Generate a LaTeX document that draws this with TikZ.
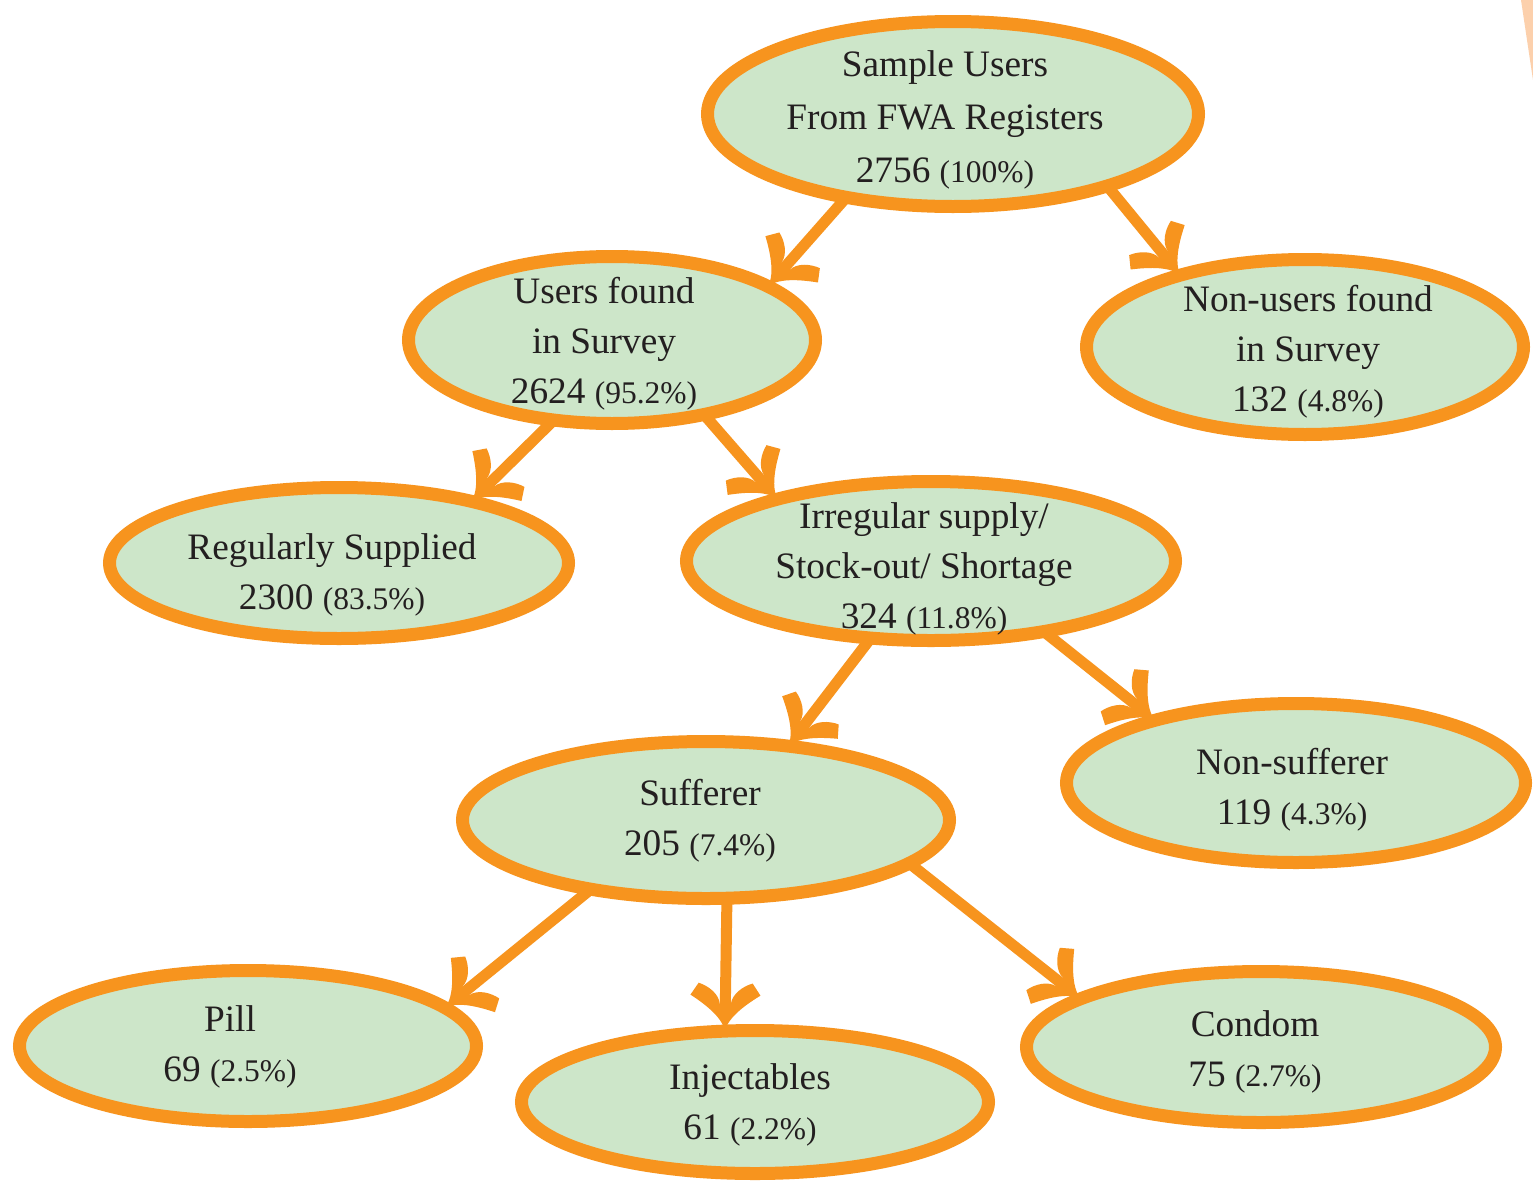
\documentclass[tikz,border=0pt]{standalone}
\usepackage{fontspec}
\setmainfont{Liberation Serif}
\usetikzlibrary{shapes.geometric,arrows.meta}
\definecolor{orng}{RGB}{247,148,30}
\definecolor{pgreen}{RGB}{205,230,201}
\definecolor{ink}{RGB}{35,31,32}
\definecolor{faintorng}{RGB}{252,208,172}
\pgfdeclarearrow{
  name = Tulip,
  parameters = {\the\pgfarrowlength},
  setup code = {
    \pgfarrowssettipend{3pt}
    \pgfarrowssetlineend{-22pt}
    \pgfarrowsupperhullpoint{3pt}{0pt}
    \pgfarrowsupperhullpoint{-33pt}{35pt}
    \pgfarrowsupperhullpoint{-45pt}{27pt}
    \pgfarrowssavethe\pgfarrowlength
  },
  drawing code = {
    \pgfsetdash{}{0pt}
    \pgfpathmoveto{\pgfqpoint{3pt}{0pt}}
    \pgfpathcurveto{\pgfqpoint{-12pt}{3pt}}{\pgfqpoint{-26pt}{24pt}}{\pgfqpoint{-33pt}{35pt}}
    \pgfpathlineto{\pgfqpoint{-45pt}{27pt}}
    \pgfpathcurveto{\pgfqpoint{-42pt}{17pt}}{\pgfqpoint{-34pt}{6.5pt}}{\pgfqpoint{-24pt}{5.5pt}}
    \pgfpathlineto{\pgfqpoint{-24pt}{-5.5pt}}
    \pgfpathcurveto{\pgfqpoint{-34pt}{-6.5pt}}{\pgfqpoint{-42pt}{-17pt}}{\pgfqpoint{-45pt}{-27pt}}
    \pgfpathlineto{\pgfqpoint{-33pt}{-35pt}}
    \pgfpathcurveto{\pgfqpoint{-26pt}{-24pt}}{\pgfqpoint{-12pt}{-3pt}}{\pgfqpoint{3pt}{0pt}}
    \pgfpathclose
    \pgfusepathqfill
  },
  defaults = {length = 36pt}
}
\newcommand{\pc}[1]{{\fontsize{31.5}{50}\selectfont(#1)}}
\begin{document}
\begin{tikzpicture}[x=1pt,y=-1pt,
  bubble/.style={ellipse,draw=orng,fill=pgreen,line width=13pt,inner sep=0pt,outer sep=0pt},
  lbl/.style={align=center,text=ink,font=\fontsize{37.3}{50}\selectfont,inner sep=0pt},
  conn/.style={draw=orng,fill=orng,line width=11pt,-{Tulip}}]
\useasboundingbox[fill=white] (0,0) rectangle (1533,1183);
\fill[faintorng] (1521,0) -- (1533,0) -- (1533,80) -- cycle;
% ellipses
\node[bubble,minimum width=491pt,minimum height=185pt] (top) at (953,114) {};
\node[bubble,minimum width=407pt,minimum height=167pt] (users) at (612,340) {};
\node[bubble,minimum width=437pt,minimum height=175pt] (nonusers) at (1305,347) {};
\node[bubble,minimum width=459pt,minimum height=151pt] (regular) at (339,563) {};
\node[bubble,minimum width=489pt,minimum height=159pt] (irregular) at (931,561) {};
\node[bubble,minimum width=487pt,minimum height=157pt] (sufferer) at (706,820) {};
\node[bubble,minimum width=459pt,minimum height=159pt] (nonsuff) at (1296,783) {};
\node[bubble,minimum width=457pt,minimum height=151pt] (pill) at (248,1046) {};
\node[bubble,minimum width=467pt,minimum height=143pt] (inject) at (755,1102) {};
\node[bubble,minimum width=469pt,minimum height=151pt] (condom) at (1261,1047) {};
% texts
\node[lbl,font=\fontsize{37.3}{53}\selectfont] (toptxt) at (945,120) {Sample Users\\From FWA Registers\\2756 \pc{100\%}};
\node[lbl] (userstxt) at (604,344) {Users found\\in Survey\\2624 \pc{95.2\%}};
\node[lbl] (nonuserstxt) at (1308,352) {Non-users found\\in Survey\\132 \pc{4.8\%}};
\node[lbl] (regulartxt) at (332,575) {Regularly Supplied\\2300 \pc{83.5\%}};
\node[lbl] (irregulartxt) at (924,569) {Irregular supply/\\Stock-out/ Shortage\\324 \pc{11.8\%}};
\node[lbl] (sufferertxt) at (700,821) {Sufferer\\205 \pc{7.4\%}};
\node[lbl] (nonsufftxt) at (1292,790) {Non-sufferer\\119 \pc{4.3\%}};
\node[lbl] (pilltxt) at (230,1047) {Pill\\69 \pc{2.5\%}};
\node[lbl] (injecttxt) at (750,1105) {Injectables\\61 \pc{2.2\%}};
\node[lbl] (condomtxt) at (1255,1052) {Condom\\75 \pc{2.7\%}};
% connectors
\draw[conn] (top.-142) -- (users.19);
\draw[conn] (top.-25) -- (nonusers.150);
\draw[conn] (users.-126) -- (regular.25);
\draw[conn] (users.-39) -- (irregular.158);
\draw[conn] (irregular.-128) -- (sufferer.42);
\draw[conn] (irregular.-32) -- (nonsuff.156);
\draw[conn] (sufferer.-149) -- (pill.11);
\draw[conn] (sufferer.-75) -- (inject.113);
\draw[conn] (sufferer.-12) -- (condom.165);
\end{tikzpicture}
\end{document}
